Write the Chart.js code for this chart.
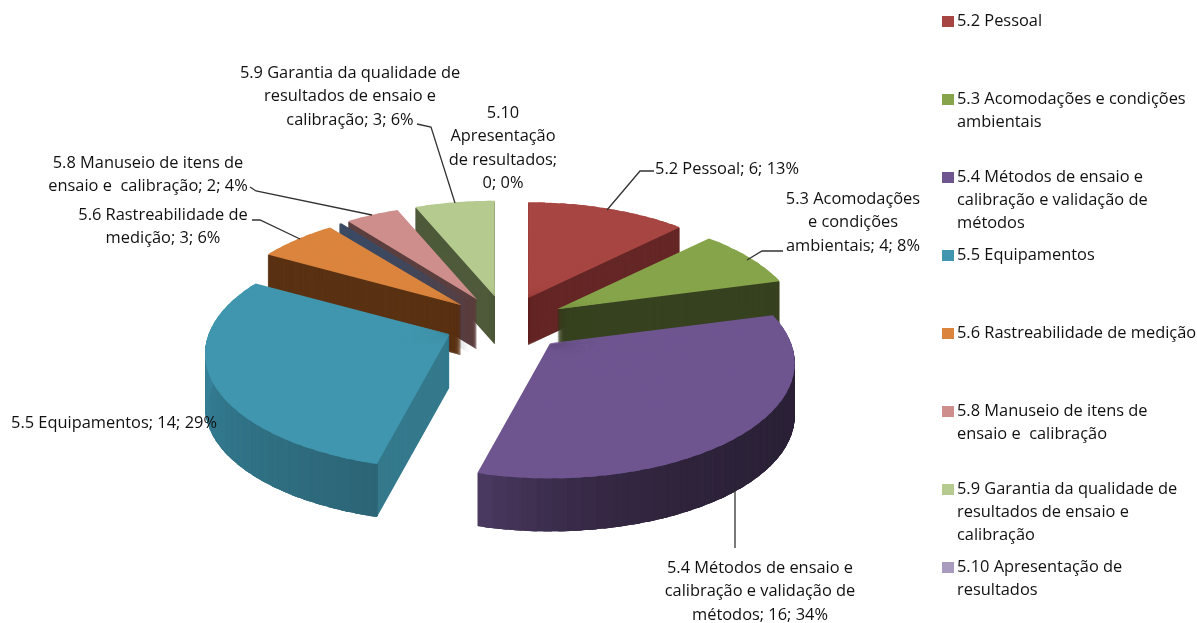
<!DOCTYPE html>
<html><head><meta charset="utf-8">
<style>html,body{margin:0;padding:0;background:#fff;overflow:hidden}canvas{display:block;filter:blur(0.45px)}</style>
<script src="https://cdn.jsdelivr.net/npm/chart.js@4"></script></head>
<body><canvas id="c" width="1197" height="623"></canvas>
<script>
// ---- data ----
const categories=['5.2 Pessoal','5.3 Acomodações e condições ambientais','5.4 Métodos de ensaio e calibração e validação de métodos','5.5 Equipamentos','5.6 Rastreabilidade de medição','5.7','5.8 Manuseio de itens de ensaio e calibração','5.9 Garantia da qualidade de resultados de ensaio e calibração','5.10 Apresentação de resultados'];
const values=[6,4,16,14,3,0.1,2,3,0];
// ---- styles ----
const topColors=['#a64541','#86a44a','#6f5590','#4096ae','#db843d','#3b4a63','#ce8e8c','#b5ca8f','#a99bbd'];
const radialWall=['#652726','#374220','#352943','#34798c','#5a3213','#3b4a63','#5c3f3f','#4e5a3a','#6b5c80'];
const wallStart=['#652726','#374220','#2c2238','#2d6677','#5a3213','#3b4a63','#5c3f3f','#4e5a3a','#6b5c80'];
const wallEnd=['#652726','#374220','#4a3960','#3a8ca6','#5a3213','#3b4a63','#5c3f3f','#4e5a3a','#6b5c80'];
const wallCurve=[1,1,5,1,1,1,1,1,1];
const depths=[47,50,53,53,50,52,50,48,48];
const drawOrder=[7,6,5,4,0,1,3,2];
const proj={cx:506,cy:323,R:241,k:0.465,p:0.17,explode:0.25,wedge:3,overlap:0.03};
const legendItems=[
 {i:0,lines:['5.2 Pessoal']},
 {i:1,lines:['5.3 Acomodações e condições','ambientais']},
 {i:2,lines:['5.4 Métodos de ensaio e','calibração e validação de','métodos']},
 {i:3,lines:['5.5 Equipamentos']},
 {i:4,lines:['5.6 Rastreabilidade de medição']},
 {i:6,lines:['5.8 Manuseio de itens de','ensaio e  calibração']},
 {i:7,lines:['5.9 Garantia da qualidade de','resultados de ensaio e','calibração']},
 {i:8,lines:['5.10 Apresentação de','resultados']}];
const dataLabels=[
 {x:350,y:73,lines:['5.9 Garantia da qualidade de','resultados de ensaio e','calibração; 3; 6%']},
 {x:503,y:113,lines:['5.10','Apresentação','de resultados;','0; 0%']},
 {x:727,y:169,lines:['5.2 Pessoal; 6; 13%']},
 {x:853,y:199,lines:['5.3 Acomodações','e condições','ambientais; 4; 8%']},
 {x:148,y:163,lines:['5.8 Manuseio de itens de','ensaio e  calibração; 2; 4%']},
 {x:163,y:215,lines:['5.6 Rastreabilidade de','medição; 3; 6%']},
 {x:114,y:423,lines:['5.5 Equipamentos; 14; 29%']},
 {x:760,y:568,lines:['5.4 Métodos de ensaio e','calibração e validação de','métodos; 16; 34%']}];
const leaders=[
 [[654,171],[640,171],[607,210]],
 [[783,251],[762,251],[747,260]],
 [[417,124],[431,127],[455,203]],
 [[250,187],[256,191],[372,215]],
 [[252,220],[260,220],[300,239]],
 [[735,490],[735,548]]];
const FONT='16.4px "Open Sans"';
const TEXT='#111';

function mix(a,b,t){const p=s=>[1,3,5].map(i=>parseInt(s.substr(i,2),16));const A=p(a),B=p(b);
 return 'rgb('+A.map((v,i)=>Math.round(v+(B[i]-v)*t)).join(',')+')';}
function plane(x,y){const w=1-proj.p*y;return [proj.R*x/w,proj.R*proj.k*y/w];}
function arcOpts(c){return {backgroundColor:c,borderColor:c,borderWidth:0,offset:0,spacing:0,circular:true,borderAlign:'center',borderRadius:0,borderDash:[],borderDashOffset:0,borderJoinStyle:'round',selfJoin:false};}

function drawWedge(ctx,el,S,t0,t1,extra,color,inner,dy){
 // t in radians clockwise from 12 o'clock; extra overlaps the next wedge to hide seams
 const ux1=[Math.sin(t0),-Math.cos(t0)],ux2=[Math.sin(t1),-Math.cos(t1)];
 const s1=plane(ux1[0],ux1[1]),s2=plane(ux2[0],ux2[1]);
 const det=ux1[0]*ux2[1]-ux2[0]*ux1[1];
 const i11=ux2[1]/det,i12=-ux2[0]/det,i21=-ux1[1]/det,i22=ux1[0]/det;
 const a=s1[0]*i11+s2[0]*i21,c=s1[0]*i12+s2[0]*i22,b=s1[1]*i11+s2[1]*i21,d=s1[1]*i12+s2[1]*i22;
 const Rel=el.__R;
 const st=t0-Math.PI/2,en=t1+extra-Math.PI/2;
 el.startAngle=st;el.endAngle=en;el.circumference=en-st;
 el.innerRadius=inner?Rel*inner:0;el.outerRadius=Rel;
 el.options=arcOpts(color);
 ctx.save();
 ctx.translate(S[0],S[1]+dy);
 ctx.transform(a,b,c,d,0,0);
 ctx.scale(1/Rel,1/Rel);
 ctx.translate(-el.x,-el.y);
 el.draw(ctx);
 ctx.restore();
}
const pie3d={id:'pie3d',beforeDatasetsDraw(chart){
 const ctx=chart.ctx,meta=chart.getDatasetMeta(0);
 const total=values.reduce((a,b)=>a+b,0);
 const angles=[];let acc=0;
 values.forEach(v=>{angles.push([acc/total*2*Math.PI,(acc+v)/total*2*Math.PI]);acc+=v;});
 const step=proj.wedge*Math.PI/180;
 drawOrder.forEach(i=>{
  const el=meta.data[i];if(!el.__R)el.__R=el.outerRadius;
  const saved={s:el.startAngle,e:el.endAngle,c:el.circumference,o:el.options,ir:el.innerRadius};
  const [a0,a1]=angles[i],mid=(a0+a1)/2;
  const C=plane(proj.explode*Math.sin(mid),-proj.explode*Math.cos(mid));
  const S=[proj.cx+C[0],proj.cy+C[1]];
  const n=Math.max(1,Math.ceil((a1-a0)/step));
  const wedges=[];for(let w=0;w<n;w++)wedges.push([a0+(a1-a0)*w/n,a0+(a1-a0)*(w+1)/n,w<n-1?proj.overlap:0,w]);
  const D=depths[i];
  for(let dy=D;dy>=1;dy--)wedges.forEach(W=>drawWedge(ctx,el,S,W[0],W[1],W[2],radialWall[i],0,dy));
  wedges.forEach(W=>{const t=n>1?W[3]/(n-1):0;const col=mix(wallStart[i],wallEnd[i],Math.pow(t,wallCurve[i]));
   for(let dy=D;dy>=1;dy--)drawWedge(ctx,el,S,W[0],W[1],W[2],col,0.985,dy);});
  wedges.forEach(W=>drawWedge(ctx,el,S,W[0],W[1],W[2],topColors[i],0,0));
  el.startAngle=saved.s;el.endAngle=saved.e;el.circumference=saved.c;el.options=saved.o;el.innerRadius=saved.ir;
 });
 return false;
},afterDraw(chart){
 const ctx=chart.ctx;ctx.save();
 ctx.strokeStyle='#333';ctx.lineWidth=1.3;
 leaders.forEach(L=>{ctx.beginPath();L.forEach((p,j)=>j?ctx.lineTo(p[0],p[1]):ctx.moveTo(p[0],p[1]));ctx.stroke();});
 ctx.font=FONT;ctx.fillStyle=TEXT;ctx.textBaseline='middle';ctx.textAlign='center';
 dataLabels.forEach(d=>d.lines.forEach((t,j)=>ctx.fillText(t,d.x,d.y+j*23.6)));
 ctx.textAlign='left';
 legendItems.forEach((it,k)=>{const y=21+78*k;
  ctx.fillStyle=topColors[it.i];ctx.fillRect(942,y-5,12,11);
  ctx.fillStyle=TEXT;it.lines.forEach((t,j)=>ctx.fillText(t,957,y+j*23.4));});
 ctx.restore();
}};
new Chart(document.getElementById('c'),{type:'pie',
 data:{labels:categories,datasets:[{data:values,backgroundColor:topColors}]},
 options:{responsive:false,animation:false,events:[],plugins:{legend:{display:false},tooltip:{enabled:false}}},
 plugins:[pie3d]});
</script></body></html>
